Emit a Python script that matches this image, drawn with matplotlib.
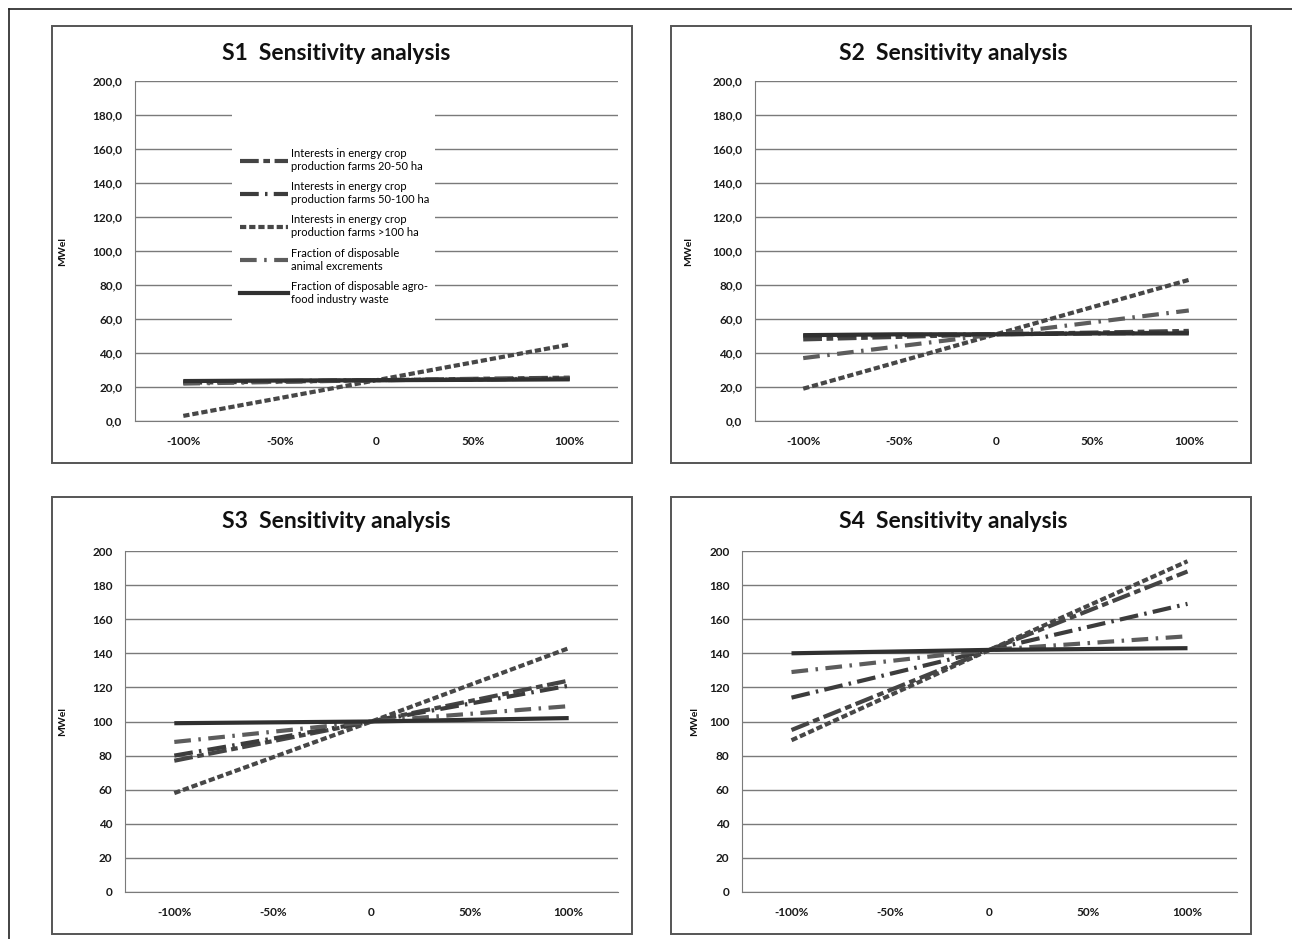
import matplotlib
matplotlib.use("Agg")
import matplotlib.pyplot as plt
from matplotlib.patches import Rectangle
from matplotlib.lines import Line2D

plt.rcParams["font.family"] = ["Lato", "DejaVu Sans"]

W, H = 1292, 939

# category axis
x_labels = ["-100%", "-50%", "0", "50%", "100%"]

series_names = [
    "Interests in energy crop\nproduction farms 20-50 ha",
    "Interests in energy crop\nproduction farms 50-100 ha",
    "Interests in energy crop\nproduction farms >100 ha",
    "Fraction of disposable\nanimal excrements",
    "Fraction of disposable agro-\nfood industry waste",
]

# values (MWel)
s1_farms_20_50 = [22.5, 23.2, 24.0, 24.8, 25.5]
s1_farms_50_100 = [23.0, 23.5, 24.0, 24.5, 25.0]
s1_farms_100 = [3.0, 13.5, 24.0, 34.5, 45.0]
s1_animal = [22.0, 23.0, 24.0, 24.5, 25.0]
s1_agro = [23.5, 23.8, 24.0, 24.2, 24.5]

s2_farms_20_50 = [48.0, 49.5, 51.0, 52.0, 53.0]
s2_farms_50_100 = [50.0, 50.5, 51.0, 51.5, 52.0]
s2_farms_100 = [19.0, 35.0, 51.0, 67.0, 83.0]
s2_animal = [37.0, 44.0, 51.0, 58.0, 65.0]
s2_agro = [50.5, 51.0, 51.0, 51.5, 51.5]

s3_farms_20_50 = [77.0, 88.5, 100.0, 112.0, 124.0]
s3_farms_50_100 = [80.0, 90.0, 100.0, 110.5, 121.0]
s3_farms_100 = [58.0, 79.0, 100.0, 121.5, 143.0]
s3_animal = [88.0, 94.0, 100.0, 104.5, 109.0]
s3_agro = [99.0, 99.5, 100.0, 101.0, 102.0]

s4_farms_20_50 = [95.0, 118.5, 142.0, 165.0, 188.0]
s4_farms_50_100 = [114.0, 128.0, 142.0, 155.5, 169.0]
s4_farms_100 = [89.0, 115.5, 142.0, 168.0, 194.0]
s4_animal = [129.0, 135.5, 142.0, 146.0, 150.0]
s4_agro = [140.0, 141.0, 142.0, 142.5, 143.0]

y_ticks = [0, 20, 40, 60, 80, 100, 120, 140, 160, 180, 200]

# line looks, same order as series_names
LINE_STYLES = [
    dict(color="#444444", linestyle=(0, (4.5, 1.1, 1.6, 1.1))),
    dict(color="#3c3c3c", linestyle=(0, (4.5, 1.5, 0.6, 1.5))),
    dict(color="#474747", linestyle=(0, (1.5, 0.7))),
    dict(color="#5c5c5c", linestyle=(0, (4.0, 1.8, 0.6, 1.8))),
    dict(color="#303030", linestyle="-"),
]
LW = 3.0


def fig_box(left, top, right, bottom):
    return [left / W, 1 - bottom / H, (right - left) / W, (bottom - top) / H]


def draw_panel(fig, panel, series, decimals, with_legend=False):
    bl, bt, br, bb = panel["border"]
    fig.patches.append(Rectangle((bl / W, 1 - bb / H), (br - bl) / W, (bb - bt) / H,
                                 transform=fig.transFigure, fill=False,
                                 edgecolor="#555555", linewidth=1.4))

    ax = fig.add_axes(fig_box(*panel["plot"]))
    pl, pt, pr, pb = panel["plot"]
    x = list(range(len(x_labels)))
    for values, name, style in zip(series, series_names, LINE_STYLES):
        ax.plot(x, values, linewidth=LW, label=name, solid_capstyle="butt",
                dash_capstyle="butt", zorder=3, **style)

    ax.set_xlim(-0.5, len(x_labels) - 0.5)
    ax.set_ylim(0, 200)
    ax.set_yticks(y_ticks)
    if decimals:
        ax.set_yticklabels([f"{v:.1f}".replace(".", ",") for v in y_ticks])
    ax.set_xticks(x)
    ax.set_xticklabels(x_labels)
    ax.tick_params(axis="both", length=0, labelsize=8.5, colors="#1a1a1a")
    ax.tick_params(axis="x", pad=11)
    ax.tick_params(axis="y", pad=9)
    for lab in ax.get_xticklabels() + ax.get_yticklabels():
        lab.set_fontweight("bold")

    ax.grid(axis="y", color="#7a7a7a", linewidth=1.0)
    ax.set_axisbelow(True)
    for side in ("top", "right"):
        ax.spines[side].set_visible(False)
    ax.spines["left"].set_color("#7a7a7a")
    ax.spines["bottom"].set_color("#7a7a7a")

    fig.text(panel["title_x"] / W, 1 - panel["title_y"] / H, panel["title"],
             ha="center", va="center", fontsize=16.5, fontweight="bold", color="#111111")
    fig.text(panel["ylabel_x"] / W, 1 - (pt + pb) / 2 / H, "MWel", rotation=90,
             ha="center", va="center", fontsize=7.5, fontweight="bold", color="#111111")

    if with_legend:
        # white area behind the legend, hiding the gridlines like the original
        ax.add_patch(Rectangle(((232 - pl) / (pr - pl), 1 - (345 - pt) / (pb - pt)),
                               (435 - 232) / (pr - pl), (345 - 105) / (pb - pt),
                               transform=ax.transAxes, facecolor="white",
                               edgecolor="none", zorder=2))
        handles = [Line2D([0], [0], linewidth=LW, dash_capstyle="butt", **s) for s in LINE_STYLES]
        leg = ax.legend(handles, series_names, loc="upper left",
                        bbox_to_anchor=((240 - pl) / (pr - pl), 1 - (148 - pt) / (pb - pt)),
                        fontsize=8, frameon=False, handlelength=4.3,
                        handletextpad=0.25, labelspacing=0.85, borderpad=0,
                        borderaxespad=0)
        leg.set_zorder(4)
    return ax


def main() -> None:
    fig = plt.figure(figsize=(W / 100, H / 100), dpi=100)
    fig.patch.set_facecolor("white")

    # outer frame (top and left edges visible)
    fig.add_artist(Line2D([9 / W, 1], [1 - 9 / H, 1 - 9 / H], transform=fig.transFigure,
                          color="#222222", linewidth=1.2))
    fig.add_artist(Line2D([9 / W, 9 / W], [0, 1 - 9 / H], transform=fig.transFigure,
                          color="#222222", linewidth=1.2))

    panels = [
        dict(border=(52, 26, 632, 463), plot=(135, 81, 618, 421), title="S1  Sensitivity analysis",
             title_x=336, title_y=53, ylabel_x=63),
        dict(border=(671, 26, 1251, 463), plot=(755, 81, 1237, 421), title="S2  Sensitivity analysis",
             title_x=953, title_y=53, ylabel_x=689),
        dict(border=(52, 497, 632, 934), plot=(125, 551, 618, 892), title="S3  Sensitivity analysis",
             title_x=336, title_y=522, ylabel_x=63),
        dict(border=(671, 497, 1251, 934), plot=(742, 551, 1237, 892), title="S4  Sensitivity analysis",
             title_x=953, title_y=521, ylabel_x=695),
    ]

    all_series = [
        [s1_farms_20_50, s1_farms_50_100, s1_farms_100, s1_animal, s1_agro],
        [s2_farms_20_50, s2_farms_50_100, s2_farms_100, s2_animal, s2_agro],
        [s3_farms_20_50, s3_farms_50_100, s3_farms_100, s3_animal, s3_agro],
        [s4_farms_20_50, s4_farms_50_100, s4_farms_100, s4_animal, s4_agro],
    ]

    for i, (panel, series) in enumerate(zip(panels, all_series)):
        draw_panel(fig, panel, series, decimals=(i < 2), with_legend=(i == 0))

    fig.savefig("out.png", dpi=100)


if __name__ == "__main__":
    main()
